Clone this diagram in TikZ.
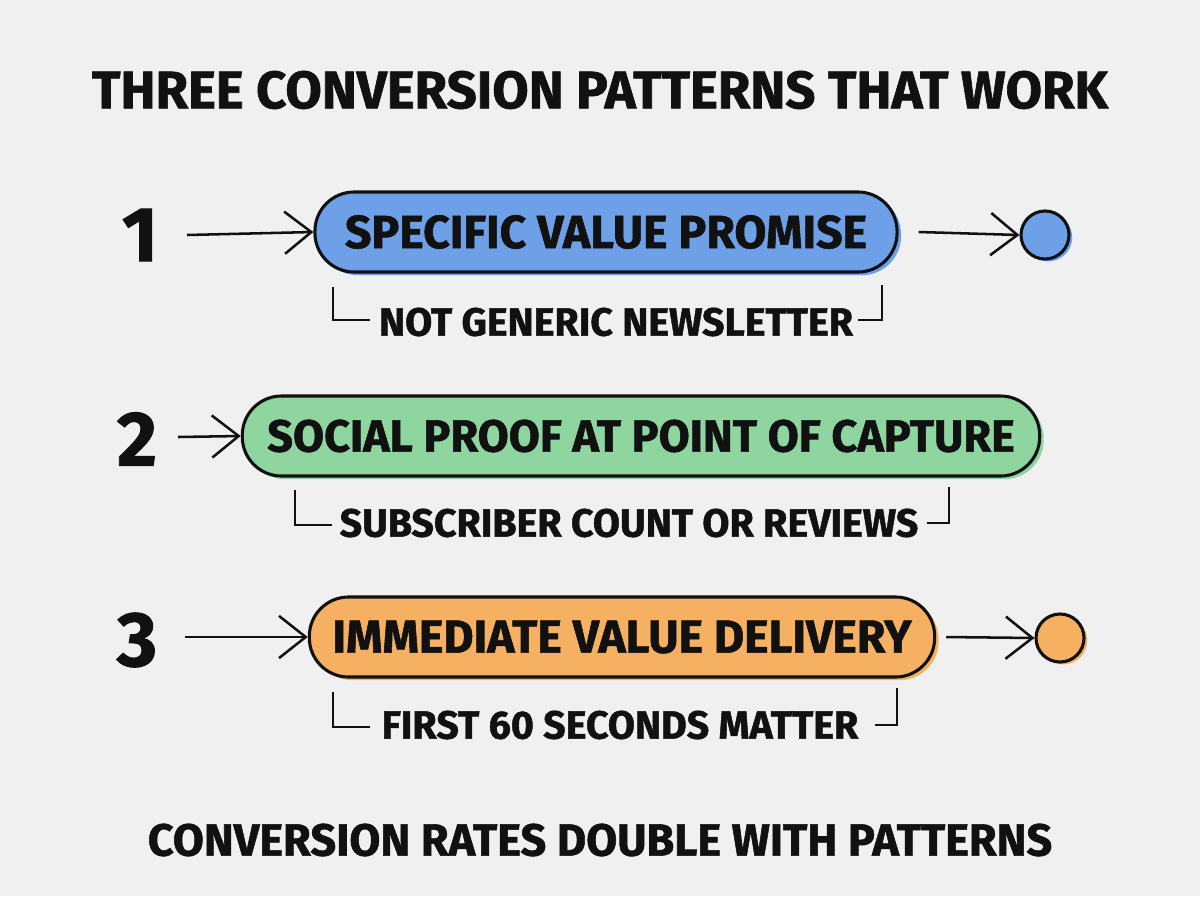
\documentclass[tikz,border=0pt]{standalone}
\usepackage{fontspec}
\setmainfont{Fira Sans}[BoldFeatures={FakeBold=1.2}]
\usetikzlibrary{arrows.meta,shadows}

\definecolor{bgcol}{HTML}{F0F0F0}
\definecolor{inkcol}{HTML}{111111}
\definecolor{bluefill}{HTML}{6EA0E8}
\definecolor{greenfill}{HTML}{8ED5A0}
\definecolor{orangefill}{HTML}{F5B062}

\begin{document}
\begin{tikzpicture}[x=0.025cm, y=-0.025cm, every node/.style={text=inkcol, inner sep=0pt}]

    % Styles
    \tikzstyle{pill} = [draw=inkcol, line width=2.2pt, rounded corners=0.98cm,
        minimum height=2cm, font=\bfseries\fontsize{33}{36}\selectfont]
    \tikzstyle{dot} = [circle, draw=inkcol, line width=2.2pt, minimum size=1.2cm]
    \tikzstyle{num} = [font=\bfseries\fontsize{55}{58}\selectfont]
    \tikzstyle{note} = [font=\bfseries\fontsize{28}{32}\selectfont]
    \tikzstyle{flow} = [draw=inkcol, line width=1.8pt,
        -{Straight Barb[length=19pt, width=30pt, line width=1.8pt]}]
    \tikzstyle{brace} = [draw=inkcol, line width=1.8pt]

    % Background
    \fill[bgcol] (0,0) rectangle (1200,896);

    % Title
    \node[font=\bfseries\fontsize{37.5}{40}\selectfont] (title) at (600,90) {THREE CONVERSION PATTERNS THAT WORK};

    % Row 1
    \node[num] (num1) at (140,235) {1};
    \node[pill, fill=bluefill, minimum width=14.55cm,
        general shadow={fill=bluefill, shadow xshift=0.1cm, shadow yshift=-0.08cm}] (pill1) at (606,232) {SPECIFIC VALUE PROMISE};
    \node[dot, fill=bluefill,
        general shadow={fill=bluefill, shadow xshift=0.08cm, shadow yshift=-0.06cm}] (dot1) at (1045,235) {};
    \node[note] (note1) at (616,322) {NOT GENERIC NEWSLETTER};
    \draw[flow] (187,235) -- (pill1.west);
    \draw[flow] (pill1.east) ++(20,0) -- (dot1.west);
    \draw[brace] (333,287) -- (333,320) -- (370,320);
    \draw[brace] (882,285) -- (882,320) -- (858,320);

    % Row 2
    \node[num] (num2) at (137,439) {2};
    \node[pill, fill=greenfill, minimum width=19.93cm, font=\bfseries\fontsize{32}{36}\selectfont,
        general shadow={fill=greenfill, shadow xshift=0.1cm, shadow yshift=-0.08cm}] (pill2) at (641,436) {SOCIAL PROOF AT POINT OF CAPTURE};
    \node[note] (note2) at (629,523) {SUBSCRIBER COUNT OR REVIEWS};
    \draw[flow] (178,437) -- (pill2.west);
    \draw[brace] (295,490) -- (295,525) -- (332,525);
    \draw[brace] (949,487) -- (949,523) -- (927,523);

    % Row 3
    \node[num] (num3) at (137,640) {3};
    \node[pill, fill=orangefill, minimum width=15.63cm,
        general shadow={fill=orangefill, shadow xshift=0.1cm, shadow yshift=-0.08cm}] (pill3) at (622,637) {IMMEDIATE VALUE DELIVERY};
    \node[dot, fill=orangefill,
        general shadow={fill=orangefill, shadow xshift=0.08cm, shadow yshift=-0.06cm}] (dot3) at (1060,638) {};
    \node[note] (note3) at (620,725) {FIRST 60 SECONDS MATTER};
    \draw[flow] (185,637) -- (pill3.west);
    \draw[flow] (pill3.east) ++(10,0) -- (dot3.west);
    \draw[brace] (333,692) -- (333,727) -- (370,727);
    \draw[brace] (897,688) -- (897,725) -- (875,725);

    % Footer
    \node[font=\bfseries\fontsize{32}{36}\selectfont] (footer) at (600,840) {CONVERSION RATES DOUBLE WITH PATTERNS};

\end{tikzpicture}
\end{document}
